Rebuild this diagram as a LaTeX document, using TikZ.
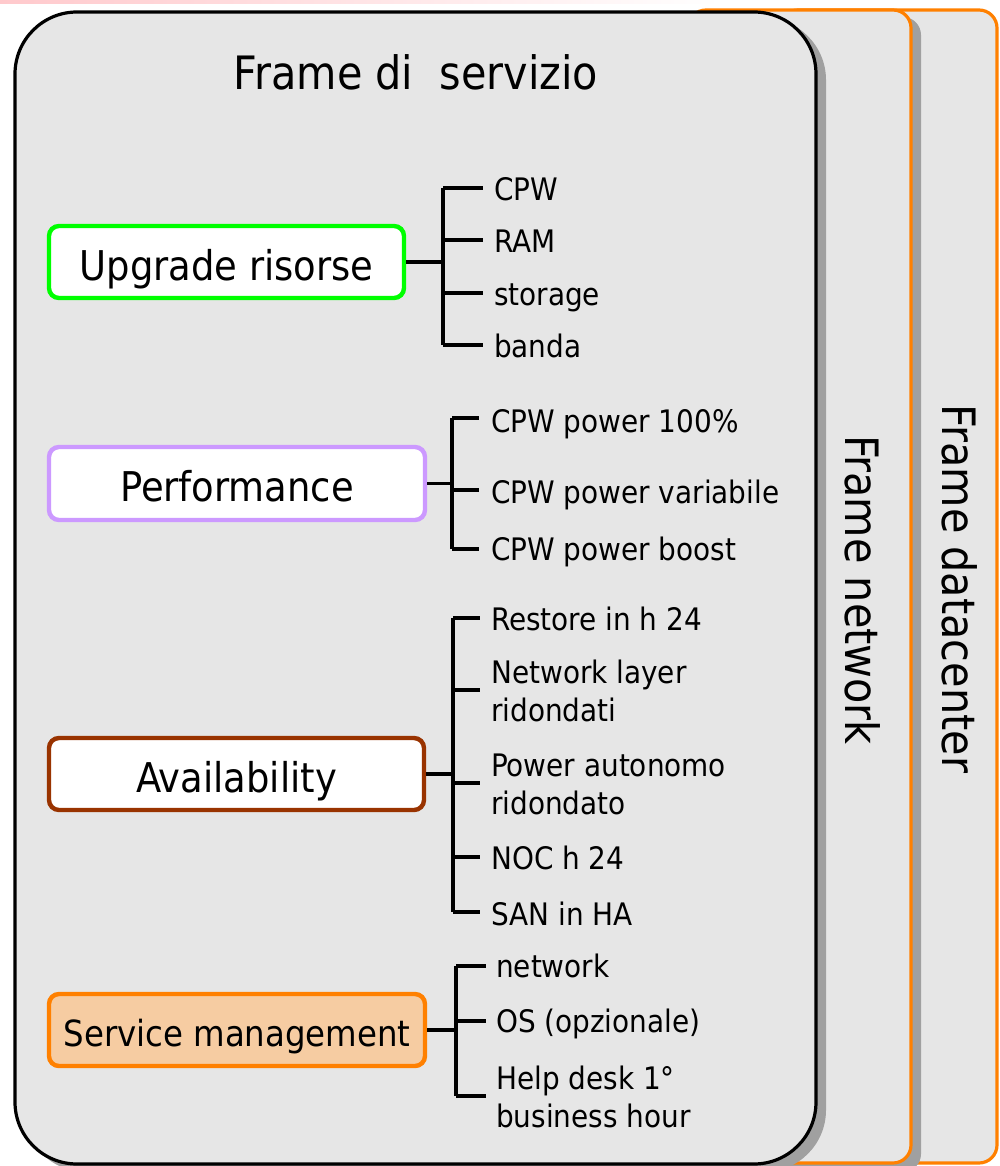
\documentclass[tikz,border=0pt]{standalone}
\usepackage{fontspec}
\setmainfont{DejaVu Sans Condensed}
\definecolor{framebg}{HTML}{E6E6E6}
\definecolor{shadowc}{HTML}{A0A0A0}
\definecolor{orangeb}{HTML}{FF8000}
\definecolor{greenb}{HTML}{00FF00}
\definecolor{lilac}{HTML}{CC99FF}
\definecolor{brownb}{HTML}{993300}
\definecolor{smfill}{HTML}{F6CCA2}
\definecolor{pinkband}{HTML}{FFC9CC}
\begin{document}
\begin{tikzpicture}[x=1pt,y=-1pt,
  frameline/.style={line width=3.2pt, fill=framebg},
  shadowbox/.style={fill=shadowc, draw=none},
  box/.style={draw, line width=4.4pt, fill=white, rounded corners=10pt, inner sep=0pt,
    text height=44pt, text depth=8pt, font=\fontsize{41}{49}\selectfont},
  item/.style={anchor=base west, inner sep=0pt, align=left, font=\fontsize{31}{38}\selectfont},
  br/.style={line width=3.2pt},
  bigtitle/.style={inner sep=0pt, anchor=base, font=\fontsize{46}{55}\selectfont}
]
\useasboundingbox (0,0) rectangle (999,1166);
\shade[left color=pinkband, right color=white] (0,0) rectangle (720,4);

% datacenter frame
\draw[frameline, draw=orangeb, rounded corners=18pt] (780,10) rectangle (997,1163);
% network frame
\fill[shadowbox, rounded corners=18pt] (698,17) rectangle (921,1172);
\draw[frameline, draw=orangeb, rounded corners=18pt] (688,10) rectangle (911,1163);
% service frame
\fill[shadowbox, rounded corners=62pt] (24,18) rectangle (826,1172);
\draw[frameline, draw=black, rounded corners=62pt] (15,12) rectangle (816,1164);

\node[bigtitle] (title) at (416,90) {Frame di\ \ servizio};
\node[bigtitle, rotate=-90] (fnet) at (845,590) {Frame network};
\node[bigtitle, rotate=-90] (fdc) at (942,589) {Frame datacenter};

% boxes
\node[box, draw=greenb, minimum width=355pt, minimum height=72pt] (u) at (226.5,262) {Upgrade risorse};
\node[box, draw=lilac, minimum width=376pt, minimum height=73pt] (p) at (237,483.5) {Performance};
\node[box, draw=brownb, minimum width=375pt, minimum height=72pt] (a) at (236.5,774) {Availability};
\node[box, draw=orangeb, fill=smfill, minimum width=376pt, minimum height=72pt,
  text height=40pt, text depth=8pt, font=\fontsize{36}{43}\selectfont] (s) at (237,1030) {Service management};

% labels (multi-line nodes: base = last line)
\node[item] (u1) at (494,201) {CPW};
\node[item] (u2) at (494,252) {RAM};
\node[item] (u3) at (494,305) {storage};
\node[item] (u4) at (494,357) {banda};

\node[item] (p1) at (491,432) {CPW power 100\%};
\node[item] (p2) at (491,503) {CPW power variabile};
\node[item] (p3) at (491,560) {CPW power boost};

\node[item] (a1) at (491,630) {Restore in h 24};
\node[item] (a2) at (491,721) {Network layer\\ridondati};
\node[item] (a3) at (491,814) {Power autonomo\\ridondato};
\node[item] (a4) at (491,869) {NOC h 24};
\node[item] (a5) at (491,925) {SAN in HA};

\node[item] (s1) at (496,977) {network};
\node[item] (s2) at (496,1032) {OS (opzionale)};
\node[item] (s3) at (496,1127) {Help desk 1°\\business hour};

% bracket coordinates
\foreach \n/\y in {1/188,2/240,3/293,4/345}{
  \coordinate (ut\n) at (443,\y); \coordinate (ue\n) at (483,\y);}
\foreach \n/\y in {1/418,2/490,3/549}{
  \coordinate (pt\n) at (452,\y); \coordinate (pe\n) at (479,\y);}
\foreach \n/\y in {1/618,2/690,3/783,4/857,5/912}{
  \coordinate (at\n) at (453,\y); \coordinate (ae\n) at (480,\y);}
\foreach \n/\y in {1/966,2/1021,3/1096}{
  \coordinate (st\n) at (456,\y); \coordinate (se\n) at (486,\y);}

% brackets
\draw[br] (u.east) -- (u.east -| ut1);
\draw[br] (ut1) -- (ut4);
\foreach \n in {1,...,4} \draw[br] (ut\n) -- (ue\n);

\draw[br] (p.east) -- (p.east -| pt1);
\draw[br] (pt1) -- (pt3);
\foreach \n in {1,...,3} \draw[br] (pt\n) -- (pe\n);

\draw[br] (a.east) -- (a.east -| at1);
\draw[br] (at1) -- (at5);
\foreach \n in {1,...,5} \draw[br] (at\n) -- (ae\n);

\draw[br] (s.east) -- (s.east -| st1);
\draw[br] (st1) -- (st3);
\foreach \n in {1,...,3} \draw[br] (st\n) -- (se\n);
\end{tikzpicture}
\end{document}
